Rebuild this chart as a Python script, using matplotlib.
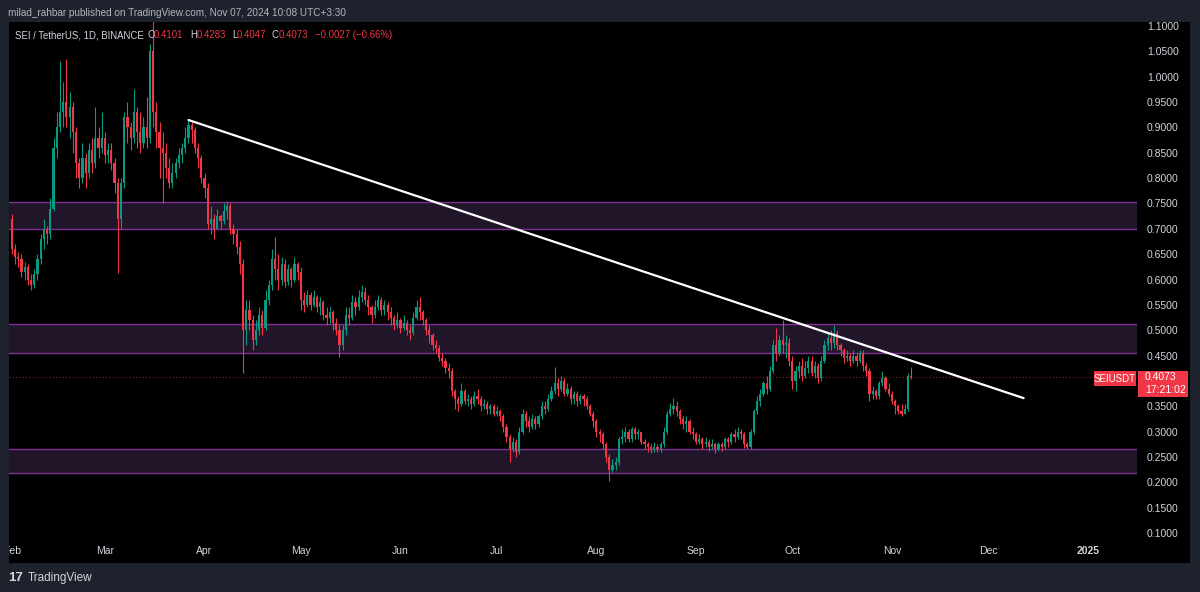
import numpy as np
import pandas as pd
import matplotlib
matplotlib.use("Agg")
import matplotlib.pyplot as plt
from matplotlib.patches import Rectangle

# daily SEI/USDT candles, Feb 1 .. Nov 7 2024 (open = previous close)
first_open = 0.72
closes = [
    0.660, 0.645, 0.640, 0.615, 0.625, 0.600, 0.590, 0.610, 0.640, 0.680,
    0.700, 0.690, 0.740, 0.860, 0.900, 0.930, 0.950, 0.920, 0.940, 0.890,
    0.830, 0.800, 0.840, 0.810, 0.855, 0.830, 0.880, 0.860, 0.880, 0.845,
    0.855, 0.830, 0.790, 0.720, 0.790, 0.920, 0.900, 0.880, 0.930, 0.890,
    0.870, 0.900, 0.880, 1.050, 0.930, 0.890, 0.860, 0.850, 0.820, 0.790,
    0.810, 0.830, 0.845, 0.860, 0.880, 0.905, 0.895, 0.860, 0.840, 0.800,
    0.780, 0.710, 0.720, 0.700, 0.725, 0.715, 0.735, 0.745, 0.700, 0.690,
    0.665, 0.630, 0.500, 0.540, 0.520, 0.480, 0.500, 0.530, 0.505, 0.560,
    0.590, 0.640, 0.620, 0.600, 0.630, 0.595, 0.620, 0.600, 0.630, 0.615,
    0.560, 0.550, 0.570, 0.550, 0.565, 0.545, 0.555, 0.530, 0.525, 0.535,
    0.515, 0.500, 0.470, 0.500, 0.530, 0.525, 0.555, 0.545, 0.565, 0.575,
    0.560, 0.545, 0.530, 0.545, 0.560, 0.540, 0.550, 0.535, 0.525, 0.510,
    0.520, 0.505, 0.515, 0.500, 0.495, 0.525, 0.545, 0.535, 0.520, 0.500,
    0.490, 0.470, 0.465, 0.445, 0.440, 0.425, 0.420, 0.380, 0.365, 0.355,
    0.380, 0.360, 0.365, 0.355, 0.370, 0.365, 0.350, 0.355, 0.345, 0.350,
    0.335, 0.340, 0.330, 0.310, 0.290, 0.265, 0.280, 0.260, 0.300, 0.335,
    0.320, 0.310, 0.325, 0.315, 0.330, 0.350, 0.345, 0.365, 0.380, 0.395,
    0.385, 0.400, 0.375, 0.385, 0.365, 0.375, 0.360, 0.370, 0.365, 0.350,
    0.335, 0.320, 0.300, 0.295, 0.275, 0.250, 0.225, 0.235, 0.240, 0.285,
    0.290, 0.300, 0.285, 0.305, 0.295, 0.300, 0.280, 0.275, 0.270, 0.265,
    0.270, 0.265, 0.275, 0.300, 0.335, 0.345, 0.350, 0.340, 0.325, 0.315,
    0.320, 0.300, 0.295, 0.280, 0.285, 0.275, 0.280, 0.270, 0.275, 0.265,
    0.275, 0.270, 0.285, 0.280, 0.295, 0.290, 0.300, 0.295, 0.275, 0.270,
    0.300, 0.340, 0.360, 0.375, 0.395, 0.385, 0.420, 0.470, 0.455, 0.480,
    0.470, 0.475, 0.440, 0.400, 0.420, 0.430, 0.410, 0.425, 0.440, 0.415,
    0.430, 0.405, 0.440, 0.470, 0.485, 0.475, 0.495, 0.470, 0.460, 0.445,
    0.450, 0.440, 0.450, 0.440, 0.455, 0.430, 0.420, 0.375, 0.380, 0.370,
    0.395, 0.405, 0.385, 0.375, 0.360, 0.350, 0.340, 0.335, 0.345, 0.4101,
    0.4073,
]
highs = [
    0.73, 0.67, 0.655, 0.65, 0.635, 0.63, 0.61, 0.62, 0.65, 0.69,
    0.72, 0.705, 0.76, 0.88, 0.93, 1.03, 0.99, 1.035, 0.97, 0.95,
    0.90, 0.84, 0.87, 0.85, 0.87, 0.88, 0.94, 0.90, 0.93, 0.89,
    0.87, 0.87, 0.84, 0.80, 0.80, 0.93, 0.95, 0.91, 0.975, 0.94,
    0.93, 0.92, 0.96, 1.065, 1.14, 0.95, 0.91, 0.89, 0.87, 0.84,
    0.83, 0.84, 0.86, 0.87, 0.90, 0.915, 0.91, 0.90, 0.87, 0.845,
    0.81, 0.79, 0.745, 0.73, 0.74, 0.73, 0.75, 0.755, 0.75, 0.71,
    0.70, 0.675, 0.64, 0.56, 0.56, 0.53, 0.52, 0.545, 0.54, 0.58,
    0.60, 0.66, 0.684, 0.65, 0.645, 0.64, 0.63, 0.625, 0.645, 0.635,
    0.625, 0.575, 0.58, 0.575, 0.58, 0.57, 0.565, 0.56, 0.545, 0.545,
    0.54, 0.525, 0.51, 0.51, 0.545, 0.545, 0.57, 0.565, 0.58, 0.59,
    0.585, 0.57, 0.55, 0.56, 0.57, 0.565, 0.56, 0.555, 0.545, 0.53,
    0.535, 0.525, 0.53, 0.52, 0.51, 0.535, 0.56, 0.565, 0.54, 0.525,
    0.51, 0.495, 0.48, 0.47, 0.455, 0.445, 0.435, 0.425, 0.385, 0.37,
    0.395, 0.385, 0.375, 0.37, 0.38, 0.385, 0.37, 0.365, 0.36, 0.355,
    0.355, 0.35, 0.345, 0.335, 0.315, 0.295, 0.29, 0.285, 0.31, 0.345,
    0.34, 0.33, 0.335, 0.33, 0.335, 0.36, 0.36, 0.375, 0.39, 0.427,
    0.405, 0.41, 0.405, 0.395, 0.39, 0.38, 0.38, 0.375, 0.375, 0.37,
    0.355, 0.34, 0.325, 0.305, 0.30, 0.28, 0.255, 0.245, 0.25, 0.29,
    0.305, 0.31, 0.305, 0.31, 0.31, 0.305, 0.30, 0.285, 0.28, 0.275,
    0.28, 0.275, 0.28, 0.31, 0.34, 0.356, 0.366, 0.36, 0.345, 0.33,
    0.33, 0.325, 0.31, 0.30, 0.295, 0.29, 0.29, 0.285, 0.285, 0.28,
    0.28, 0.28, 0.29, 0.29, 0.30, 0.305, 0.31, 0.305, 0.30, 0.28,
    0.305, 0.345, 0.37, 0.385, 0.40, 0.41, 0.43, 0.48, 0.505, 0.49,
    0.52, 0.49, 0.485, 0.45, 0.43, 0.44, 0.445, 0.44, 0.45, 0.45,
    0.44, 0.435, 0.45, 0.48, 0.495, 0.50, 0.51, 0.50, 0.475, 0.465,
    0.46, 0.455, 0.46, 0.455, 0.46, 0.46, 0.435, 0.425, 0.39, 0.385,
    0.40, 0.42, 0.41, 0.395, 0.38, 0.365, 0.355, 0.355, 0.355, 0.415,
    0.4283,
]
lows = [
    0.65, 0.63, 0.625, 0.605, 0.60, 0.59, 0.58, 0.583, 0.60, 0.63,
    0.66, 0.67, 0.68, 0.735, 0.84, 0.89, 0.90, 0.90, 0.88, 0.85,
    0.80, 0.78, 0.79, 0.78, 0.80, 0.81, 0.82, 0.84, 0.85, 0.83,
    0.83, 0.815, 0.77, 0.613, 0.70, 0.78, 0.87, 0.855, 0.87, 0.86,
    0.85, 0.86, 0.86, 0.87, 0.90, 0.86, 0.80, 0.75, 0.80, 0.78,
    0.78, 0.80, 0.82, 0.83, 0.85, 0.87, 0.87, 0.85, 0.82, 0.79,
    0.76, 0.70, 0.69, 0.68, 0.70, 0.70, 0.71, 0.72, 0.69, 0.67,
    0.65, 0.61, 0.416, 0.47, 0.50, 0.46, 0.47, 0.49, 0.49, 0.50,
    0.55, 0.58, 0.60, 0.58, 0.59, 0.585, 0.59, 0.585, 0.595, 0.60,
    0.54, 0.535, 0.545, 0.54, 0.545, 0.535, 0.53, 0.52, 0.51, 0.515,
    0.50, 0.49, 0.447, 0.46, 0.49, 0.51, 0.52, 0.53, 0.54, 0.555,
    0.55, 0.53, 0.515, 0.525, 0.54, 0.53, 0.53, 0.52, 0.51, 0.50,
    0.505, 0.495, 0.50, 0.49, 0.48, 0.49, 0.52, 0.52, 0.51, 0.49,
    0.475, 0.46, 0.455, 0.44, 0.43, 0.415, 0.405, 0.37, 0.345, 0.34,
    0.35, 0.355, 0.35, 0.345, 0.35, 0.355, 0.34, 0.345, 0.335, 0.335,
    0.33, 0.33, 0.32, 0.30, 0.28, 0.24, 0.26, 0.25, 0.255, 0.295,
    0.31, 0.30, 0.305, 0.305, 0.31, 0.325, 0.335, 0.34, 0.36, 0.375,
    0.37, 0.38, 0.37, 0.37, 0.355, 0.355, 0.35, 0.355, 0.35, 0.345,
    0.33, 0.31, 0.29, 0.28, 0.265, 0.24, 0.203, 0.22, 0.225, 0.235,
    0.275, 0.28, 0.28, 0.28, 0.285, 0.285, 0.275, 0.265, 0.26, 0.258,
    0.26, 0.26, 0.26, 0.27, 0.295, 0.33, 0.335, 0.33, 0.315, 0.305,
    0.30, 0.295, 0.285, 0.275, 0.275, 0.265, 0.27, 0.262, 0.265, 0.258,
    0.262, 0.262, 0.265, 0.27, 0.275, 0.28, 0.285, 0.285, 0.268, 0.265,
    0.265, 0.295, 0.335, 0.35, 0.37, 0.375, 0.38, 0.415, 0.44, 0.45,
    0.455, 0.445, 0.43, 0.385, 0.38, 0.405, 0.40, 0.405, 0.415, 0.41,
    0.405, 0.395, 0.40, 0.435, 0.46, 0.46, 0.465, 0.46, 0.45, 0.435,
    0.44, 0.43, 0.435, 0.43, 0.435, 0.42, 0.41, 0.36, 0.365, 0.365,
    0.365, 0.39, 0.38, 0.37, 0.355, 0.335, 0.335, 0.33, 0.335, 0.34,
    0.4047,
]

# support / resistance boxes (low, high)
zones = [(0.700, 0.753), (0.455, 0.513), (0.218, 0.265)]
# white trend line
trend_dates = ["2024-03-27", "2024-12-12"]
trend_prices = [0.9146, 0.366]
last_price = 0.4073
month_labels = ["Feb", "Mar", "Apr", "May", "Jun", "Jul", "Aug",
                "Sep", "Oct", "Nov", "Dec", "2025"]

W, H = 1200, 592
BG = "#1e222d"
GREEN = "#089981"
RED = "#f23645"
TXT = "#d1d4dc"
ZONE_FILL = "#21152a"
ZONE_EDGE = "#7e2f92"

plt.rcParams["font.family"] = ["Liberation Sans", "DejaVu Sans"]

def fx(x):
    return x / W

def fy(y):
    return 1 - y / H

start = pd.Timestamp("2024-02-01")
dates = pd.date_range(start, periods=len(closes), freq="D")
xd = np.asarray((dates - start).days, dtype=float)

fig = plt.figure(figsize=(W / 100, H / 100), dpi=100, facecolor=BG)
# black chart panel (pane + scales)
fig.add_artist(Rectangle((fx(9), fy(563)), fx(1181), (563 - 22) / H,
                         transform=fig.transFigure, facecolor="black",
                         edgecolor="none", zorder=-1))

ax = fig.add_axes([fx(9), fy(540), fx(1128), (540 - 22) / H])
ax.set_facecolor("black")

for lo, hi in zones:
    ax.axhspan(lo, hi, facecolor=ZONE_FILL, edgecolor="none", zorder=1)
    ax.axhline(lo, color=ZONE_EDGE, lw=1, zorder=1.5)
    ax.axhline(hi, color=ZONE_EDGE, lw=1, zorder=1.5)

o = np.array([first_open] + closes[:-1])
c = np.array(closes)
hi_ = np.maximum(np.array(highs), np.maximum(o, c))
lo_ = np.minimum(np.array(lows), np.minimum(o, c))
cols = np.where(c >= o, GREEN, RED)
ax.vlines(xd, lo_, hi_, colors=cols, lw=0.8, zorder=3)
ax.bar(xd, np.maximum(np.abs(c - o), 0.002), bottom=np.minimum(o, c),
       width=0.68, color=cols, lw=0, zorder=3)

tx = [(pd.Timestamp(d) - start).days for d in trend_dates]
ax.plot(tx, trend_prices, color="white", lw=1.6, zorder=4,
        solid_capstyle="round")

ax.axhline(last_price, color=RED, lw=0.8, ls=(0, (1, 2)), alpha=0.55, zorder=2)

ax.set_xlim(-0.87, 350.3)
ax.set_ylim(0.0862, 1.1079)
for s in ax.spines.values():
    s.set_visible(False)

ax.yaxis.tick_right()
yt = np.arange(0.1, 1.1001, 0.05)
ax.set_yticks(yt)
# the 0.4000 label sits under the last-price box
ax.set_yticklabels(["" if abs(v - 0.4) < 1e-6 else f"{v:.4f}" for v in yt])
ax.tick_params(axis="y", length=0, pad=7, labelsize=7.5, labelcolor=TXT)

mt = pd.date_range("2024-02-01", "2025-01-01", freq="MS")
ax.set_xticks([(m - start).days for m in mt])
ax.set_xticklabels(month_labels)
ax.tick_params(axis="x", length=0, pad=4, labelsize=7.5, labelcolor=TXT)
ax.get_xticklabels()[-1].set_fontweight("bold")

# frame strip left of the panel hides the clipped "Feb"
fig.add_artist(Rectangle((0, fy(564)), fx(9), 26 / H, transform=fig.transFigure,
                         facecolor=BG, edgecolor="none", zorder=5))

# header texts
fig.text(fx(8), fy(13), "milad_rahbar published on TradingView.com, Nov 07, 2024 10:08 UTC+3:30",
         color="#b2b5be", fontsize=7.2, va="center", ha="left")
fig.text(fx(15), fy(35), "SEI / TetherUS, 1D, BINANCE", color=TXT, fontsize=6.9,
         va="center", ha="left")
ohlc_parts = [(147, "O", TXT), (154, "0.4101", RED), (190, "H", TXT), (197, "0.4283", RED),
              (232, "L", TXT), (237, "0.4047", RED), (272, "C", TXT), (279, "0.4073", RED),
              (315, "\u22120.0027 (\u22120.66%)", RED)]
for px_, s, col in ohlc_parts:
    fig.text(fx(px_), fy(35), s, color=col, fontsize=6.9, va="center", ha="left")

# last price labels
fig.add_artist(Rectangle((fx(1094), fy(386)), fx(42), 15 / H, transform=fig.transFigure,
                         facecolor=RED, edgecolor="none", zorder=5))
fig.text(fx(1115), fy(378.5), "SEIUSDT", color="white", fontsize=7, ha="center",
         va="center", zorder=6)
fig.add_artist(Rectangle((fx(1138), fy(397)), fx(50), 26 / H, transform=fig.transFigure,
                         facecolor=RED, edgecolor="none", zorder=5))
fig.text(fx(1145), fy(377.5), f"{last_price:.4f}", color="white", fontsize=7.5,
         ha="left", va="center", zorder=6)
fig.text(fx(1145), fy(390), "17:21:02", color="white", fontsize=7.5,
         ha="left", va="center", zorder=6)

# footer
fig.text(fx(8), fy(578), "17", color=TXT, fontsize=9.5, fontweight="bold",
         va="center", ha="left")
fig.text(fx(28), fy(578), "TradingView", color=TXT, fontsize=8.5, va="center", ha="left")

fig.savefig("out.png", dpi=100, facecolor=BG)
